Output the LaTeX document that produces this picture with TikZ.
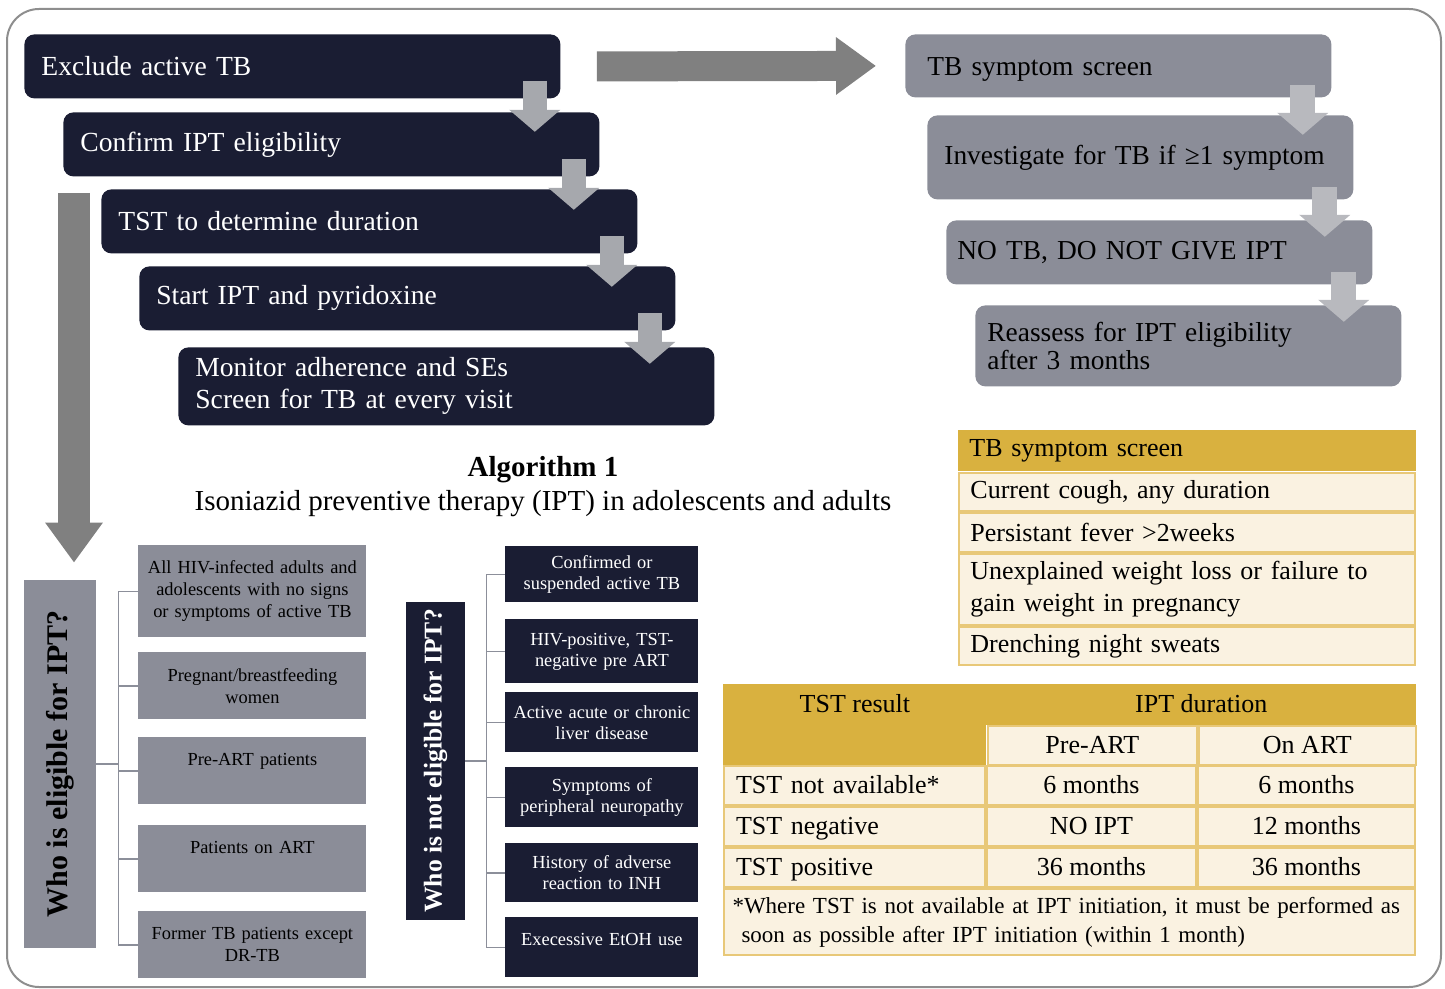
\documentclass[tikz,border=0pt]{standalone}
\usepackage{graphicx}
\usepackage{fontspec}
\setmainfont{Liberation Serif}
\usetikzlibrary{positioning,arrows.meta}
\definecolor{navy}{HTML}{1A1D33}
\definecolor{slate}{HTML}{8B8D98}
\definecolor{arrowgray}{HTML}{A6A8AD}
\definecolor{arrowlight}{HTML}{B8B9BE}
\definecolor{biggray}{HTML}{808080}
\definecolor{gold}{HTML}{D9B13F}
\definecolor{goldline}{HTML}{E8C878}
\definecolor{cream}{HTML}{FAF2E1}
\definecolor{linkgray}{HTML}{8C8F9A}
\definecolor{framegray}{HTML}{8E8E8E}

\begin{document}
\begin{tikzpicture}[x=0.5pt, y=-0.5pt,
    mainstep/.style={fill=navy, text=white, rounded corners=5pt, anchor=north west,
                minimum width=268pt, minimum height=32pt, text width=251pt, inner xsep=8.5pt,
                align=left, font=\fontsize{13.8}{16}\selectfont},
    sidestep/.style={fill=slate, rounded corners=5pt, anchor=north west,
                minimum width=213pt, align=left, font=\fontsize{13.7}{14}\selectfont},
    stepdown/.style={draw=arrowgray, line width=12pt, -{Triangle[width=25pt,length=11pt]}},
    sidedown/.style={draw=arrowlight, line width=12.5pt, -{Triangle[width=25pt,length=11pt]}},
    bigarrow/.style={draw=biggray, -{Triangle[width=27.5pt,length=20pt]}},
    okbox/.style={fill=slate, anchor=north west, minimum width=114pt, minimum height=33.5pt,
                text width=108pt, inner xsep=3pt, align=center, font=\fontsize{9.2}{11}\selectfont},
    nobox/.style={fill=navy, text=white, anchor=north west, minimum width=96.5pt, minimum height=30pt,
                text width=92pt, inner xsep=2.25pt, align=center, font=\fontsize{9.2}{10.5}\selectfont},
    link/.style={draw=linkgray, line width=0.6pt},
    ghead/.style={fill=gold, minimum height=20.5pt, font=\fontsize{13}{16}\selectfont},
    tcell/.style={fill=cream, draw=goldline, line width=1pt, minimum height=19.5pt,
                font=\fontsize{13}{16}\selectfont},
    tstcell/.style={tcell, text height=10.5pt, text depth=2.5pt}]

    \useasboundingbox (0,0) rectangle (1445,989);
    \draw[framegray, line width=1pt, rounded corners=16pt] (7,9) rectangle (1441,987);

    % main staircase
    \node[mainstep] (e1) at (24,34)  {Exclude active TB};
    \node[mainstep] (e2) at (63,112) {Confirm IPT eligibility};
    \node[mainstep] (e3) at (101,189) {TST to determine duration};
    \node[mainstep] (e4) at (139,266) {Start IPT and pyridoxine};
    \node[mainstep, minimum height=39pt] (e5) at (178,347) {Monitor adherence and SEs\\Screen for TB at every visit};

    % symptom staircase
    \node[sidestep, minimum height=31.5pt, inner xsep=11pt, text width=191pt, text height=13pt] (s1) at (905,34) {TB symptom screen};
    \node[sidestep, minimum height=42pt, inner xsep=8.5pt, text width=196pt] (s2) at (927,115) {Investigate for TB if ≥1 symptom};
    \node[sidestep, minimum height=32pt, inner xsep=5.5pt, text width=202pt] (s3) at (946,220) {NO TB, DO NOT GIVE IPT};
    \node[sidestep, minimum height=40.5pt, inner xsep=6pt, text width=201pt] (s4) at (975,305) {Reassess for IPT eligibility\\after 3 months};

    \foreach \a in {e1,e2,e3,e4} \draw[stepdown] ([shift={(-26,-18)}]\a.south east) -- ++(0,51);
    \foreach \a in {s1,s2,s3} \draw[sidedown] ([shift={(-29,-13)}]\a.south east) -- ++(0,50);

    \draw[bigarrow, line width=15pt] ([xshift=18pt]e1.east) -- ([xshift=-14.5pt]s1.west);

    \node[font=\fontsize{14.5}{17}\selectfont, align=center] (algo) at (543,487)
        {\textbf{Algorithm 1}\\Isoniazid preventive therapy (IPT) in adolescents and adults};

    % who is eligible
    \node[fill=slate, minimum width=36pt, minimum height=184pt, inner sep=0pt,
          font=\fontsize{15}{18}\selectfont] (elig) at (60,764) {\rotatebox{90}{\bfseries Who is eligible for IPT?}};
    \coordinate (vtop) at (74,193);
    \draw[bigarrow, line width=16pt] (vtop) -- ([yshift=8.5pt]vtop |- elig.north);

    \node[okbox, minimum height=46pt] (g1) at (138,545) {All HIV-infected adults and\\adolescents with no signs\\or symptoms of active TB};
    \node[okbox] (g2) at (138,652) {Pregnant/breastfeeding\\women};
    \node[okbox] (g3) at (138,737) {Pre-ART patients\\~};
    \node[okbox] (g4) at (138,825) {Patients on ART\\~};
    \node[okbox] (g5) at (138,911) {Former TB patients except\\DR-TB};
    \foreach \b in {g1,g2,g3,g4,g5} \draw[link] (elig.east) -- ++(11pt,0) |- (\b.west);

    % who is not eligible
    \node[fill=navy, text=white, minimum width=29.5pt, minimum height=159pt, inner sep=0pt,
          font=\fontsize{12.8}{15}\selectfont] (noelig) at (435.5,761) {\rotatebox{90}{\bfseries Who is not eligible for IPT?}};

    \node[nobox, minimum height=28pt] (n1) at (505,546) {Confirmed or\\suspended active TB};
    \node[nobox, minimum height=32pt] (n2) at (505,619) {HIV-positive, TST-\\negative pre ART};
    \node[nobox] (n3) at (505,692) {Active acute or chronic\\liver disease};
    \node[nobox] (n4) at (505,767) {Symptoms of\\peripheral neuropathy};
    \node[nobox, minimum height=29.5pt] (n5) at (505,843) {History of adverse\\reaction to INH};
    \node[nobox] (n6) at (505,917) {Execessive EtOH use\\[-3pt]~};
    \foreach \b in {n1,n2,n3,n4,n5,n6} \draw[link] (noelig.east) -- ++(10.5pt,0) |- (\b.west);

    % symptom screen table
    \node[ghead, anchor=north west, minimum width=229pt, text width=218pt, inner xsep=5.5pt, align=left]
        (sh) at (958,430) {TB symptom screen};
    \node[tcell, below=0pt of sh, minimum width=228pt, minimum height=19pt, text width=217pt, inner xsep=5.5pt, align=left]
        (sr1) {Current cough, any duration};
    \node[tcell, below=0pt of sr1, minimum width=228pt, text width=217pt, inner xsep=5.5pt, align=left]
        (sr2) {Persistant fever >2weeks};
    \node[tcell, below=0pt of sr2, minimum width=228pt, minimum height=35.5pt, text width=217pt, inner xsep=5.5pt, align=left]
        (sr3) {Unexplained weight loss or failure to\\gain weight in pregnancy};
    \node[tcell, below=0pt of sr3, minimum width=228pt, minimum height=19pt, text width=217pt, inner xsep=5.5pt, align=left]
        (sr4) {Drenching night sweats};

    % TST duration table
    \node[ghead, anchor=north west, minimum width=131.5pt, text height=10.5pt, text depth=2.5pt] (hd1) at (723,684) {TST result};
    \node[ghead, right=-0.5pt of hd1, minimum width=215pt, text height=10.5pt, text depth=2.5pt] (hd2) {IPT duration};
    \node[ghead, below=-0.5pt of hd1, minimum width=131.5pt, minimum height=20.5pt] (hd0) {};
    \node[tstcell, right=0pt of hd0, minimum width=104.5pt] (pa) {Pre-ART};
    \node[tstcell, right=0pt of pa, minimum width=108.5pt] (oa) {On ART};

    \foreach \k/\y/\a/\b/\c in {1/765/TST not available*/6 months/6 months,
                                2/806/TST negative/NO IPT/12 months,
                                3/847/TST positive/36 months/36 months}{
        \node[tstcell, anchor=north west, minimum width=130.5pt, text width=118.5pt, inner xsep=6pt, align=left]
            (c\k1) at (723,\y) {\a};
        \node[tstcell, right=0pt of c\k1, minimum width=104.5pt] (c\k2) {\b};
        \node[tstcell, right=0pt of c\k2, minimum width=108.5pt] (c\k3) {\c};
    }
    \node[tcell, anchor=north west, minimum width=345.5pt, minimum height=33pt, text width=337pt,
          inner xsep=4.25pt, align=left, font=\fontsize{11.5}{14.5}\selectfont] (fn) at (723,888)
        {*Where TST is not available at IPT initiation, it must be performed as\\\hspace*{4.5pt}soon as possible after IPT initiation (within 1 month)};
\end{tikzpicture}
\end{document}
